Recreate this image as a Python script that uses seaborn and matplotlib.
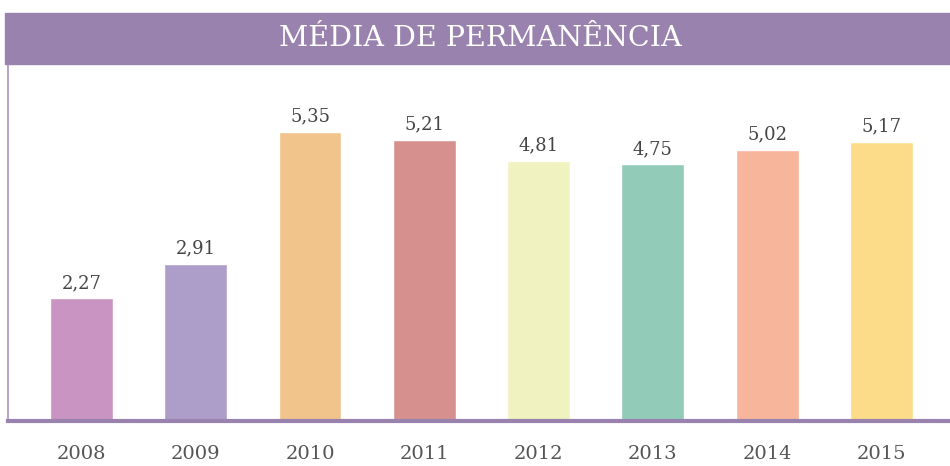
import numpy as np
import pandas as pd
import matplotlib
matplotlib.use("Agg")
import matplotlib.pyplot as plt
import seaborn as sns
from matplotlib.patches import Rectangle

# Dados
anos = ["2008", "2009", "2010", "2011", "2012", "2013", "2014", "2015"]
media = [2.27, 2.91, 5.35, 5.21, 4.81, 4.75, 5.02, 5.17]
cores = ["#c994c1", "#ad9dc9", "#f0c48a", "#d6918e", "#f0f2c0", "#92ccb8", "#f7b59c", "#fcdc88"]
titulo = "MÉDIA DE PERMANÊNCIA"

roxo = "#9983ae"
df = pd.DataFrame({"ano": anos, "media": media})

sns.set_style("white")
fig = plt.figure(figsize=(9.5, 4.66), dpi=100)
ax = fig.add_axes([8 / 950, 45 / 466, 942 / 950, 357 / 466])

sns.barplot(data=df, x="ano", y="media", hue="ano", palette=cores,
            legend=False, width=0.55, saturation=1, ax=ax)

for i, v in enumerate(media):
    ax.text(i, v + 0.12, f"{v:.2f}".replace(".", ","), ha="center", va="bottom",
            fontsize=13, color="#444444", family="DejaVu Serif")

ax.set_xlim(-0.643, 7.6)
ax.set_ylim(0, 6.61)
ax.set_xlabel("")
ax.set_ylabel("")
ax.set_yticks([])
ax.tick_params(axis="x", length=0, pad=17, labelsize=14, labelcolor="#555555")
for lab in ax.get_xticklabels():
    lab.set_family("DejaVu Serif")

for s in ["top", "right"]:
    ax.spines[s].set_visible(False)
ax.spines["left"].set_color("#b9a6cc")
ax.spines["left"].set_linewidth(1.5)
ax.spines["bottom"].set_color(roxo)
ax.spines["bottom"].set_linewidth(3)

# Faixa do título
fig.patches.append(Rectangle((5 / 950, (466 - 64) / 466), 945 / 950, 51 / 466,
                             transform=fig.transFigure, color=roxo, zorder=0))
fig.text(480 / 950, (466 - 39) / 466, titulo, ha="center", va="center",
         color="white", fontsize=20.5, family="DejaVu Serif")

fig.savefig("out.png", dpi=100, facecolor="white")
